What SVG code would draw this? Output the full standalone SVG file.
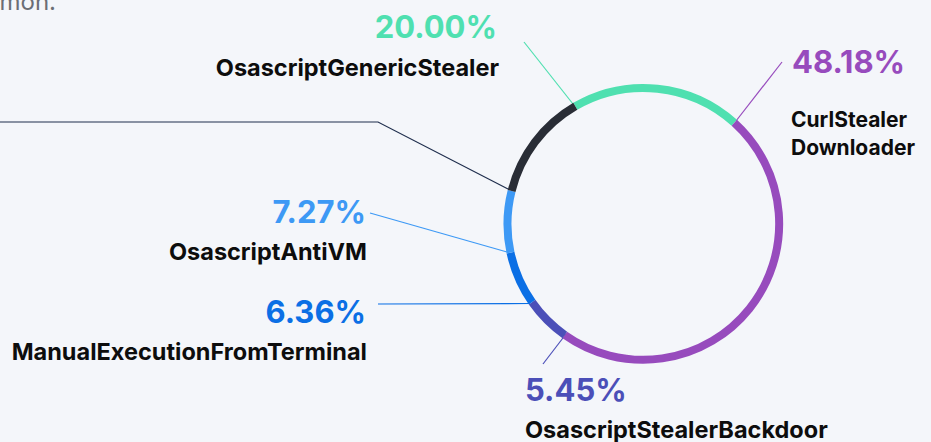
<svg xmlns="http://www.w3.org/2000/svg" width="931" height="442" viewBox="0 0 931 442">
<style>
.bg{fill:#f4f6fa}
.pct{font-family:Inter,"Liberation Sans",sans-serif;font-weight:700;font-size:31px}
.lbl{font-family:Inter,"Liberation Sans",sans-serif;font-weight:700;font-size:23.5px;fill:#0d0d0d}
.sm{font-size:21px}
.arc{fill:none;stroke-width:8}
.lead{fill:none;stroke-width:1.2}
</style>
<rect class="bg" x="0" y="0" width="931" height="442"/>
<text x="56" y="10" font-family="Inter,'Liberation Sans',sans-serif" font-size="24" fill="#6b6e75" text-anchor="end">mon.</text>
<g id="connectors">
<path class="lead" stroke="#4fe0b0" d="M524,42 L573,104"/>
<path class="lead" stroke="#974bbd" d="M782,62 L736,121"/>
<path class="lead" stroke="#1f2e4d" stroke-width="1.6" d="M0,122 H378 L508,189"/>
<path class="lead" stroke="#3d99f5" d="M370,213 L507,252"/>
<path class="lead" stroke="#0b6fe5" d="M378,304 L530,303.5"/>
<path class="lead" stroke="#4b4fb8" d="M566,334 L543,364"/>
</g>
<g id="ring">
<path class="arc" stroke="#4fe0b0" d="M575.3,106.3 A136,136 0 0 1 734.3,122.8"/>
<path class="arc" stroke="#974bbd" d="M734.3,122.8 A136,136 0 0 1 564.8,334.9"/>
<path class="arc" stroke="#4b4fb8" d="M564.8,334.9 A136,136 0 0 1 532.1,302.1"/>
<path class="arc" stroke="#0b6fe5" d="M532.1,302.1 A136,136 0 0 1 510.5,252.6"/>
<path class="arc" stroke="#3d99f5" d="M510.5,252.6 A136,136 0 0 1 511.6,191.0"/>
<path class="arc" stroke="#292d36" d="M511.6,191.0 A136,136 0 0 1 575.3,106.3"/>
</g>
<g id="node-generic">
<text class="pct" x="497" y="38" text-anchor="end" fill="#4fe0b0">20.00%</text>
<text class="lbl" x="499" y="76" text-anchor="end">OsascriptGenericStealer</text>
</g>
<g id="node-curl">
<text class="pct" x="792" y="73" fill="#974bbd">48.18%</text>
<text class="lbl sm" x="791" y="127">CurlStealer</text>
<text class="lbl sm" x="791" y="155">Downloader</text>
</g>
<g id="node-antivm">
<text class="pct" x="366" y="223" text-anchor="end" fill="#3d99f5">7.27%</text>
<text class="lbl" x="367" y="260" text-anchor="end">OsascriptAntiVM</text>
</g>
<g id="node-manual">
<text class="pct" x="366" y="323" text-anchor="end" fill="#0b6fe5">6.36%</text>
<text class="lbl" x="367" y="360" text-anchor="end">ManualExecutionFromTerminal</text>
</g>
<g id="node-backdoor">
<text class="pct" x="525" y="401" fill="#4b4fb8">5.45%</text>
<text class="lbl" x="525" y="438">OsascriptStealerBackdoor</text>
</g>
</svg>
